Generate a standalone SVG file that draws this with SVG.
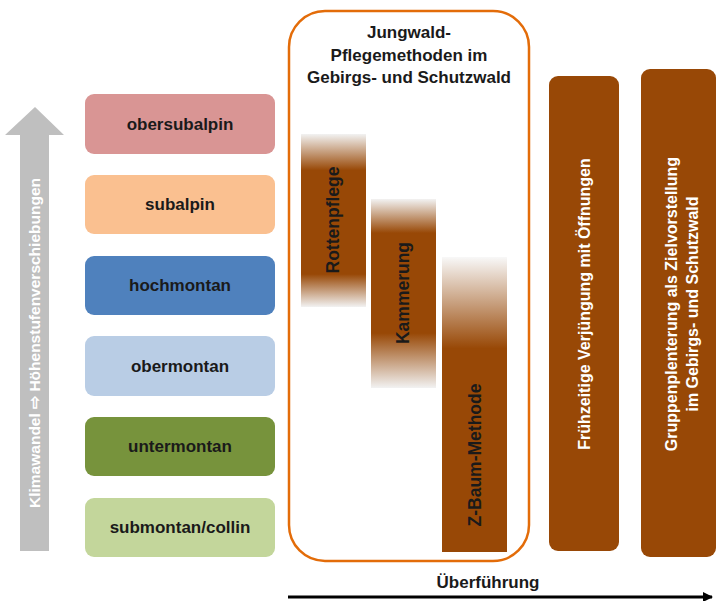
<svg xmlns="http://www.w3.org/2000/svg" width="717" height="601" viewBox="0 0 717 601">
<style>
.lbl{font-family:"Liberation Sans",Arial,sans-serif;font-weight:bold;font-size:17px;fill:#1a1a1a;text-anchor:middle}
.wht{font-family:"Liberation Sans",Arial,sans-serif;font-weight:bold;font-size:16px;fill:#ffffff;text-anchor:middle}
.brn{fill:#984806}
</style>
<defs>
<linearGradient id="gR" x1="0" y1="0" x2="0" y2="1">
<stop offset="0" stop-color="#f2f2f2"/><stop offset="0.21" stop-color="#984806"/><stop offset="0.81" stop-color="#984806"/><stop offset="1" stop-color="#f2f2f2"/>
</linearGradient>
<linearGradient id="gK" x1="0" y1="0" x2="0" y2="1">
<stop offset="0" stop-color="#f2f2f2"/><stop offset="0.18" stop-color="#984806"/><stop offset="0.71" stop-color="#984806"/><stop offset="1" stop-color="#f2f2f2"/>
</linearGradient>
<linearGradient id="gZ" x1="0" y1="0" x2="0" y2="1">
<stop offset="0" stop-color="#f8f8f8"/><stop offset="0.31" stop-color="#984806"/><stop offset="1" stop-color="#984806"/>
</linearGradient>
<marker id="ah" markerWidth="10" markerHeight="10" refX="9" refY="5" orient="auto" markerUnits="userSpaceOnUse">
<path d="M0,0 L10,5 L0,10 Z" fill="#000"/>
</marker>
</defs>
<rect width="717" height="601" fill="#fff"/>

<g id="klimawandel-arrow">
<path d="M20,551 L20,135 L5,135 L35,107 L64,135 L49,135 L49,551 Z" fill="#bfbfbf"/>
<text class="wht" style="font-size:15.5px" transform="translate(40,343) rotate(-90)">Klimawandel ⇨ Höhenstufenverschiebungen</text>
</g>

<g id="obersubalpin"><rect x="85" y="94" width="190" height="60" rx="9" fill="#d99594"/><text class="lbl" x="180" y="130">obersubalpin</text></g>
<g id="subalpin"><rect x="85" y="175" width="190" height="59" rx="9" fill="#fac090"/><text class="lbl" x="180" y="210">subalpin</text></g>
<g id="hochmontan"><rect x="85" y="256" width="190" height="59" rx="9" fill="#4f81bd"/><text class="lbl" x="180" y="291">hochmontan</text></g>
<g id="obermontan"><rect x="85" y="336" width="190" height="60" rx="9" fill="#b9cde5"/><text class="lbl" x="180" y="372">obermontan</text></g>
<g id="untermontan"><rect x="85" y="417" width="190" height="59" rx="9" fill="#77933c"/><text class="lbl" x="180" y="452">untermontan</text></g>
<g id="submontan-collin"><rect x="85" y="498" width="190" height="59" rx="9" fill="#c3d69b"/><text class="lbl" x="180" y="533">submontan/collin</text></g>

<g id="jungwald-box">
<rect x="289" y="11" width="240" height="550" rx="36" fill="#fff" stroke="#e36c09" stroke-width="2.5"/>
<text class="lbl" x="409" y="38">Jungwald-</text>
<text class="lbl" x="409" y="61">Pflegemethoden im</text>
<text class="lbl" x="409" y="83">Gebirgs- und Schutzwald</text>
</g>

<g id="rottenpflege"><rect x="301" y="134" width="65" height="173" fill="url(#gR)"/><text class="lbl" style="font-size:17.5px" transform="translate(339,220) rotate(-90)">Rottenpflege</text></g>
<g id="kammerung"><rect x="371" y="199" width="65" height="189" fill="url(#gK)"/><text class="lbl" style="font-size:17.5px" transform="translate(409,293) rotate(-90)">Kammerung</text></g>
<g id="z-baum-methode"><rect x="442" y="257" width="65" height="295" fill="url(#gZ)"/><text class="lbl" style="font-size:17.5px" transform="translate(481,455) rotate(-90)">Z-Baum-Methode</text></g>

<g id="fruehzeitige-verjuengung"><rect x="549" y="76" width="70" height="475" rx="9" class="brn"/><text class="wht" transform="translate(590,304) rotate(-90)">Frühzeitige Verjüngung mit Öffnungen</text></g>
<g id="gruppenplenterung"><rect x="641" y="69" width="75" height="488" rx="9" class="brn"/>
<text class="wht" transform="translate(677,304) rotate(-90)">Gruppenplenterung als Zielvorstellung</text>
<text class="wht" transform="translate(698,304) rotate(-90)">im Gebirgs- und Schutzwald</text></g>

<g id="connectors">
<line x1="288" y1="597" x2="712" y2="597" stroke="#000" stroke-width="3" marker-end="url(#ah)"/>
<text class="lbl" x="488" y="588">Überführung</text>
</g>
</svg>
